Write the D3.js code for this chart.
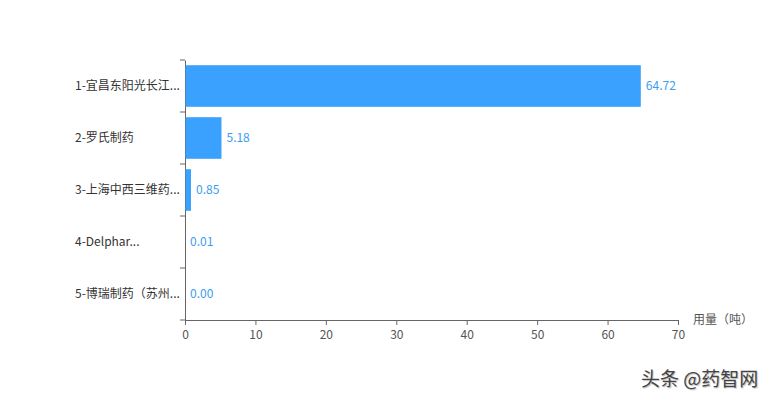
<!DOCTYPE html>
<html><head><meta charset="utf-8">
<script src="https://cdn.jsdelivr.net/npm/d3@7"></script>
<style>body{margin:0;background:#fff}svg{display:block}text{font-family:"Noto Sans CJK SC","Noto Sans",sans-serif}</style>
</head><body><svg id="c" width="778" height="400"></svg>
<script>
const categories = ["1-宜昌东阳光长江...", "2-罗氏制药", "3-上海中西三维药...", "4-Delphar...", "5-博瑞制药（苏州..."];
const values = [64.72, 5.18, 0.85, 0.01, 0.00];
const valueLabels = ["64.72", "5.18", "0.85", "0.01", "0.00"];
const xTicks = [0, 10, 20, 30, 40, 50, 60, 70];
const axisName = "用量（吨）";
const watermark = "头条 @药智网";

const svg = d3.select("#c");
const m = {l:185, r:678, t:60, b:320};
const x = d3.scaleLinear().domain([0,70]).range([m.l, m.r]);
const y = d3.scaleBand().domain(categories).range([m.t, m.b]).paddingInner(0.2).paddingOuter(0.1);

const xa = svg.append("g").attr("transform",`translate(0,${m.b})`)
  .call(d3.axisBottom(x).tickValues(xTicks).tickSize(5).tickSizeOuter(0));
xa.select(".domain").attr("stroke","#666");
xa.selectAll(".tick line").attr("stroke","#666");
xa.selectAll(".tick text").attr("fill","#555").attr("font-size",12).attr("dy","0.9em");

const yb = d3.scaleBand().domain(categories).range([m.t, m.b]);
const ya = svg.append("g").attr("transform",`translate(${m.l},0)`)
  .call(d3.axisLeft(yb).tickSize(0).tickPadding(5));
ya.select(".domain").attr("stroke","#666");
ya.selectAll(".tick text").attr("fill","#333").attr("font-size",12)
  .attr("text-anchor","start").attr("x",75-m.l);
// band boundary ticks
const bounds = categories.map(c=>yb(c)).concat([m.b]);
svg.append("g").selectAll("line").data(bounds).join("line")
  .attr("x1",m.l-5).attr("x2",m.l).attr("y1",d=>d).attr("y2",d=>d).attr("stroke","#666");

svg.append("g").selectAll("rect").data(values).join("rect")
  .attr("x",x(0)+0.5).attr("y",(d,i)=>y(categories[i]))
  .attr("width",d=>Math.max(0,x(d)-x(0)-0.5)).attr("height",y.bandwidth())
  .attr("fill","#3ba1ff");

svg.append("g").selectAll("text").data(values).join("text")
  .attr("x",d=>x(d)+5).attr("y",(d,i)=>y(categories[i])+y.bandwidth()/2)
  .attr("dy","0.35em").attr("font-size",12).attr("fill","#3a9df0")
  .text((d,i)=>valueLabels[i]);

svg.append("text").attr("x",693).attr("y",m.b).attr("dy","0.35em").attr("font-size",12).attr("fill","#555").text(axisName);

svg.append("text").attr("x",641).attr("y",386).attr("font-size",19).attr("fill","#444")
  .attr("style","text-shadow:1px 1px 1px #bbb").text(watermark);
</script></body></html>
